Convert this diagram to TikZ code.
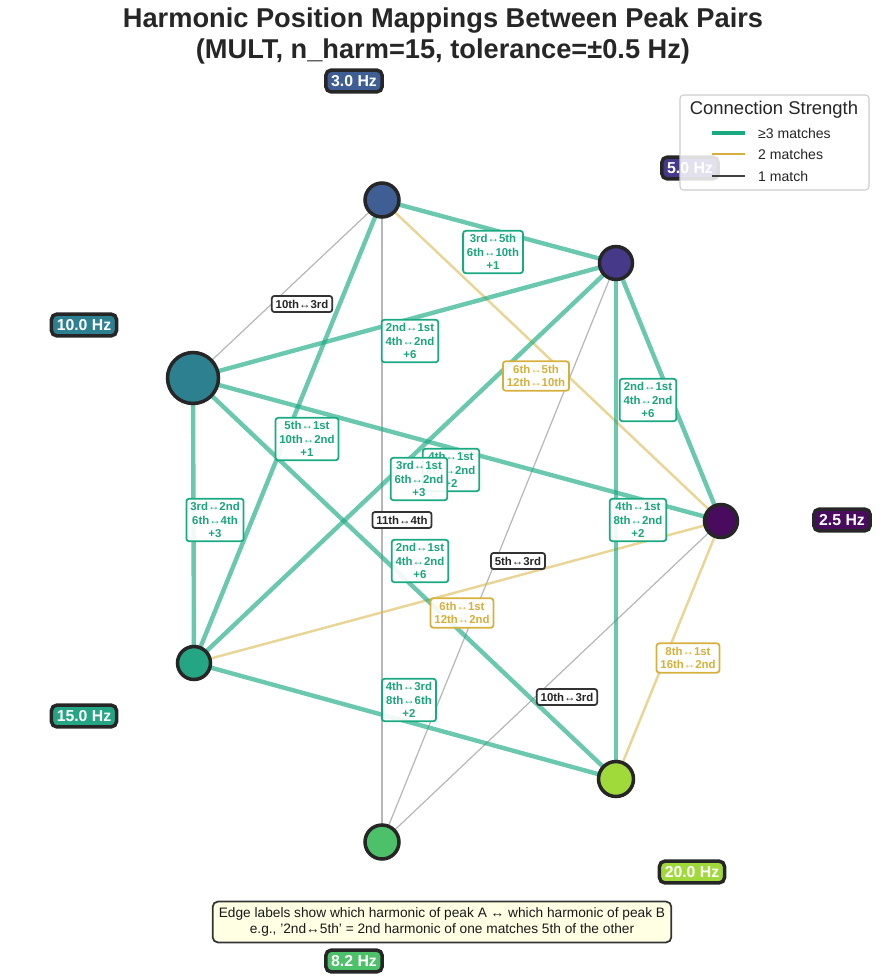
\documentclass[tikz,border=0pt]{standalone}
\usepackage{fontspec}
\setmainfont{Liberation Sans}
\begin{document}
\begin{tikzpicture}[x=0.02cm,y=-0.02cm,
  pk/.style={circle,draw=black!85,line width=2pt,inner sep=0pt},
  hz/.style={rounded corners=3pt,draw=black!85,line width=2pt,text=white,font=\bfseries\fontsize{9}{10}\selectfont,inner sep=3pt},
  strong/.style={line width=2.5pt,draw opacity=0.65,color={rgb,255:red,26;green,170;blue,130}},
  mid/.style={line width=1.4pt,draw opacity=0.6,color={rgb,255:red,218;green,186;blue,80}},
  weak/.style={line width=0.7pt,draw opacity=0.7,color=gray!80},
  lab/.style={fill=white,fill opacity=0.9,text opacity=1,rounded corners=1.5pt,line width=1pt,font=\bfseries\fontsize{6.5}{7.5}\selectfont,align=center,inner sep=2.2pt},
  gl/.style={lab,draw={rgb,255:red,26;green,170;blue,130},text={rgb,255:red,26;green,165;blue,125}},
  yl/.style={lab,draw={rgb,255:red,214;green,176;blue,60},text={rgb,255:red,214;green,176;blue,60}},
  kl/.style={lab,draw=black!80,text=black!85}]
\useasboundingbox (0,0) rectangle (886,978);
\definecolor{cA}{HTML}{3E5E94}\definecolor{cB}{HTML}{47398A}\definecolor{cC}{HTML}{480B5E}
\definecolor{cD}{HTML}{A0DA3A}\definecolor{cE}{HTML}{4DC06A}\definecolor{cF}{HTML}{24A584}\definecolor{cG}{HTML}{2D8090}
\node[font=\bfseries\fontsize{15.5}{17.5}\selectfont,align=center,text=black!85] (title) at (443,36) {Harmonic Position Mappings Between Peak Pairs\\(MULT, n\_harm=15, tolerance=±0.5 Hz)};
\coordinate (A) at (382,200);\coordinate (B) at (616,263);\coordinate (C) at (721,521);
\coordinate (D) at (616,779);\coordinate (E) at (382,842);\coordinate (F) at (194,663);\coordinate (G) at (193,378);
\draw[weak] (A)--(G); \draw[weak] (A)--(E); \draw[weak] (B)--(E); \draw[weak] (C)--(E);
\draw[mid] (A)--(C); \draw[mid] (F)--(C); \draw[mid] (C)--(D);
\foreach \a/\b in {A/B,A/F,G/B,G/C,G/F,G/D,B/F,B/C,B/D,F/D}{\draw[strong] (\a)--(\b);}
\node[pk,fill=cA,minimum size=0.68cm] (nA) at (A) {};
\node[pk,fill=cB,minimum size=0.66cm] (nB) at (B) {};
\node[pk,fill=cC,minimum size=0.66cm] (nC) at (C) {};
\node[pk,fill=cD,minimum size=0.70cm] (nD) at (D) {};
\node[pk,fill=cE,minimum size=0.68cm] (nE) at (E) {};
\node[pk,fill=cF,minimum size=0.66cm] (nF) at (F) {};
\node[pk,fill=cG,minimum size=1.02cm] (nG) at (G) {};
\node[kl] (l1) at (302,304) {10th↔3rd};
\node[kl] (l2) at (402,520) {11th↔4th};
\node[kl] (l3) at (518,561) {5th↔3rd};
\node[kl] (l4) at (567,697) {10th↔3rd};
\node[yl] (l5) at (536,376) {6th↔5th\\12th↔10th};
\node[yl] (l6) at (462,613) {6th↔1st\\12th↔2nd};
\node[yl] (l7) at (688,658) {8th↔1st\\16th↔2nd};
\node[gl] (l8) at (493,252) {3rd↔5th\\6th↔10th\\+1};
\node[gl] (l9) at (410,341) {2nd↔1st\\4th↔2nd\\+6};
\node[gl] (l10) at (648,400) {2nd↔1st\\4th↔2nd\\+6};
\node[gl] (l11) at (307,439) {5th↔1st\\10th↔2nd\\+1};
\node[gl] (l12) at (451,470) {4th↔1st\\8th↔2nd\\+2};
\node[gl] (l13) at (419,479) {3rd↔1st\\6th↔2nd\\+3};
\node[gl] (l14) at (215,520) {3rd↔2nd\\6th↔4th\\+3};
\node[gl] (l15) at (638,520) {4th↔1st\\8th↔2nd\\+2};
\node[gl] (l16) at (420,561) {2nd↔1st\\4th↔2nd\\+6};
\node[gl] (l17) at (409,700) {4th↔3rd\\8th↔6th\\+2};
\node[hz,fill=cA] (hA) at (354,81) {3.0 Hz};
\node[hz,fill=cB] (hB) at (690,168) {5.0 Hz};
\node[hz,fill=cC] (hC) at (842,520) {2.5 Hz};
\node[hz,fill=cD] (hD) at (692,872) {20.0 Hz};
\node[hz,fill=cE] (hE) at (354,961) {8.2 Hz};
\node[hz,fill=cF] (hF) at (84,716) {15.0 Hz};
\node[hz,fill=cG] (hG) at (84,325) {10.0 Hz};
\draw[draw=black!20,fill=white,fill opacity=0.85,rounded corners=2pt,line width=0.6pt] (680,95) rectangle (869,190);
\node[text=black!85,font=\fontsize{10.5}{12}\selectfont] (legt) at (774,110) {Connection Strength};
\coordinate (s1) at (712,133);\coordinate (e1) at (745,133);
\coordinate (s2) at (712,154);\coordinate (e2) at (745,154);
\coordinate (s3) at (712,176);\coordinate (e3) at (745,176);
\draw[line width=2.5pt,color={rgb,255:red,26;green,170;blue,130}] (s1)--(e1);
\draw[line width=1.4pt,color={rgb,255:red,214;green,176;blue,60}] (s2)--(e2);
\draw[line width=0.8pt,color=black!75] (s3)--(e3);
\node[anchor=west,font=\fontsize{8}{9}\selectfont,text=black!85] (t1) at (752,133) {≥3 matches};
\node[anchor=west,font=\fontsize{8}{9}\selectfont,text=black!85] (t2) at (752,154) {2 matches};
\node[anchor=west,font=\fontsize{8}{9}\selectfont,text=black!85] (t3) at (752,176) {1 match};
\node[draw=black!80,fill={rgb,255:red,255;green,255;blue,228},rounded corners=3pt,line width=1pt,align=center,font=\fontsize{7.8}{9}\selectfont,text=black!90,inner sep=3.5pt] (note) at (442,922) {Edge labels show which harmonic of peak A ↔ which harmonic of peak B\\e.g., '2nd↔5th' = 2nd harmonic of one matches 5th of the other};
\end{tikzpicture}
\end{document}
